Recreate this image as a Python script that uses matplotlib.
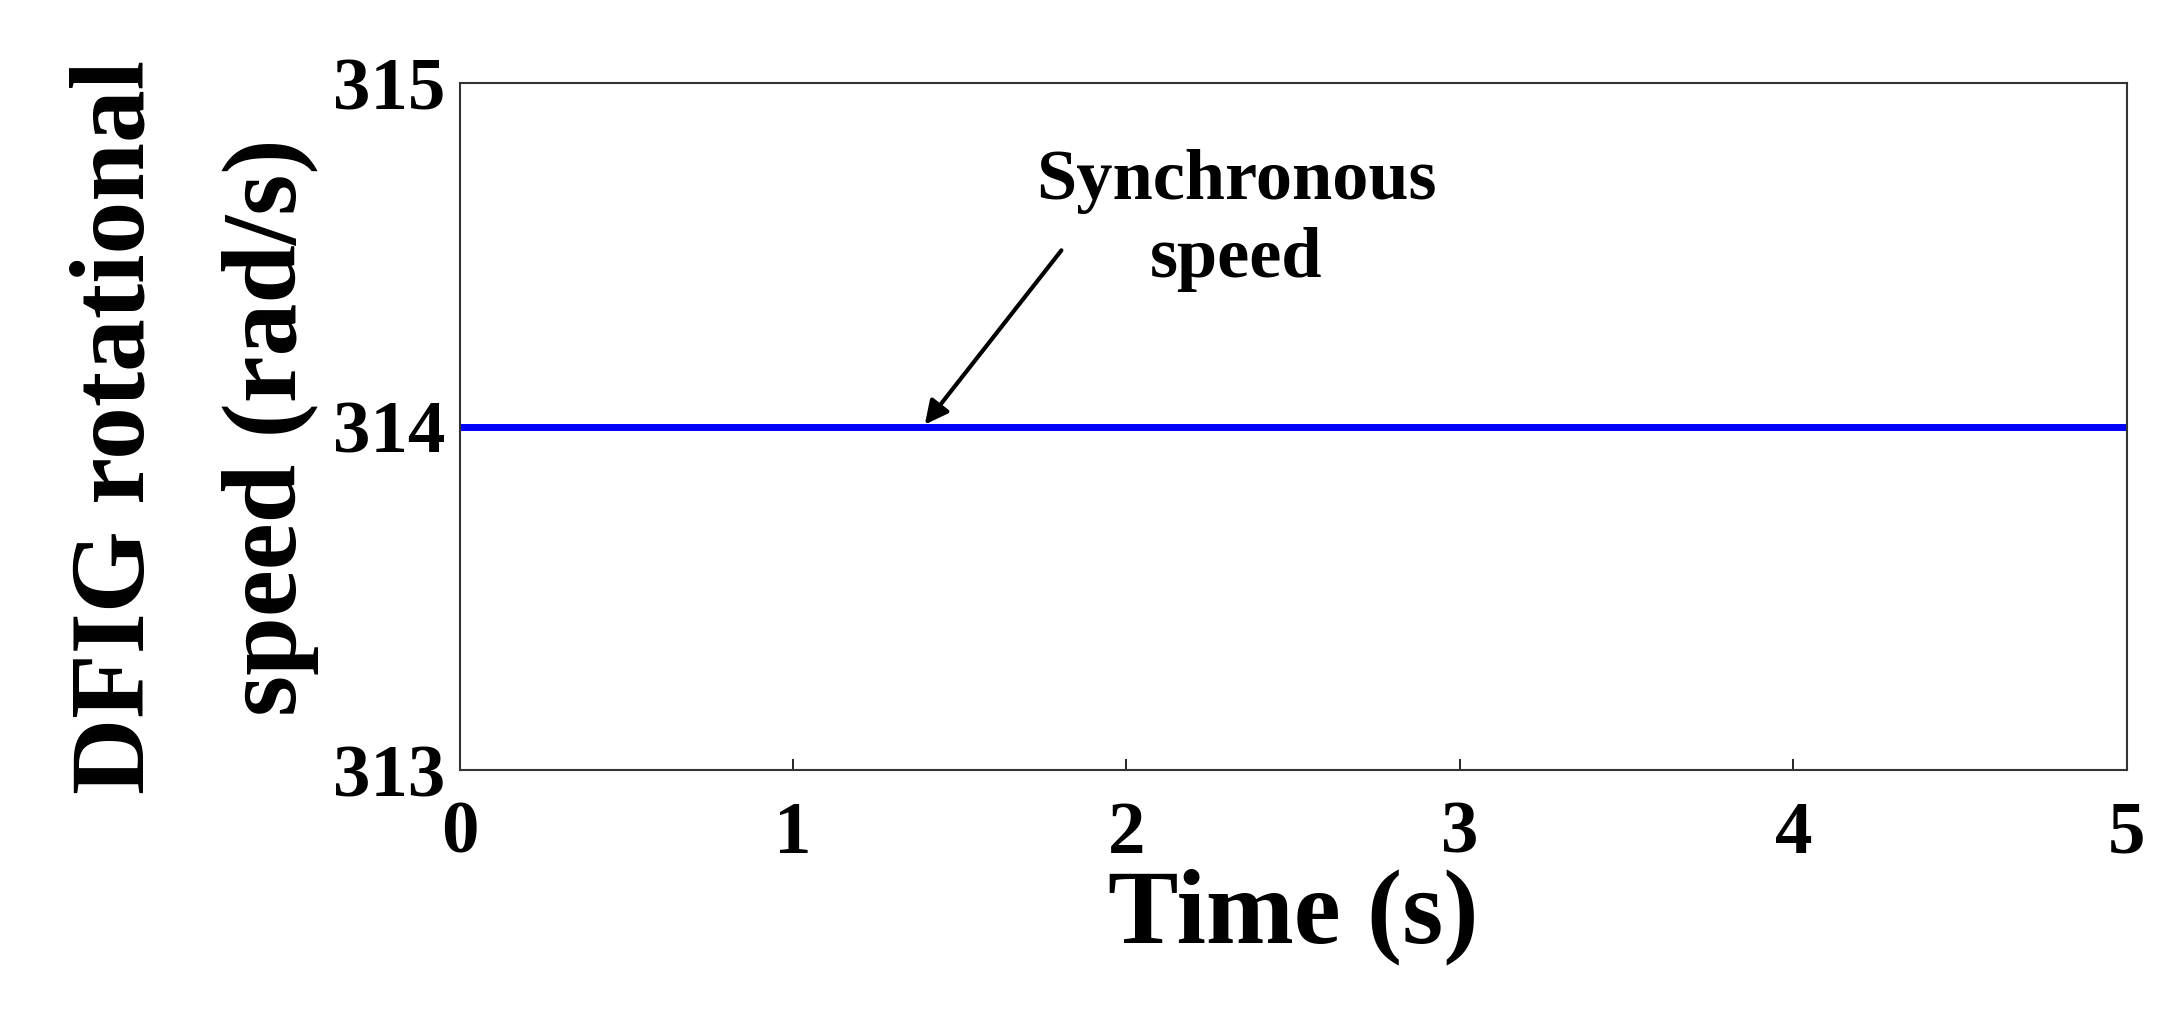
import matplotlib
matplotlib.use("Agg")
import matplotlib.pyplot as plt

plt.rcParams['font.family'] = ['Liberation Serif', 'DejaVu Serif']
plt.rcParams['font.weight'] = 'bold'

# data
time_s = [0, 5]
speed = [314, 314]
x_ticks = [0, 1, 2, 3, 4, 5]
y_ticks = [313, 314, 315]
arrow_tip = (1.39, 314.0)
arrow_tail = (1.81, 314.52)

fig = plt.figure(figsize=(21.68, 10.16), dpi=100)
ax = fig.add_axes([0.212, 0.242, 0.769, 0.676])

ax.plot(time_s, speed, color='#0000ff', linewidth=5)
ax.set_xlim(0, 5)
ax.set_ylim(313, 315)
ax.set_xticks(x_ticks)
ax.set_yticks(y_ticks)
ax.tick_params(labelsize=54, direction='in', length=8, width=1.2)
ax.tick_params(axis='x', pad=22)
ax.tick_params(axis='y', pad=10)
for s in ax.spines.values():
    s.set_linewidth(1.5)
    s.set_color('#333333')

ax.set_xlabel('Time (s)', fontsize=76, fontweight='bold', labelpad=0)
ax.set_ylabel('DFIG rotational\nspeed (rad/s)', fontsize=76, fontweight='bold', labelpad=10,
              linespacing=1.75)

ax.annotate('', xy=arrow_tip, xytext=arrow_tail,
            arrowprops=dict(arrowstyle='-|>', color='black', lw=3, mutation_scale=35))
ax.text(2.33, 314.6, 'Synchronous\nspeed', fontsize=52, fontweight='bold',
        ha='center', va='center', linespacing=1.25)

fig.savefig('out.png', dpi=100)
